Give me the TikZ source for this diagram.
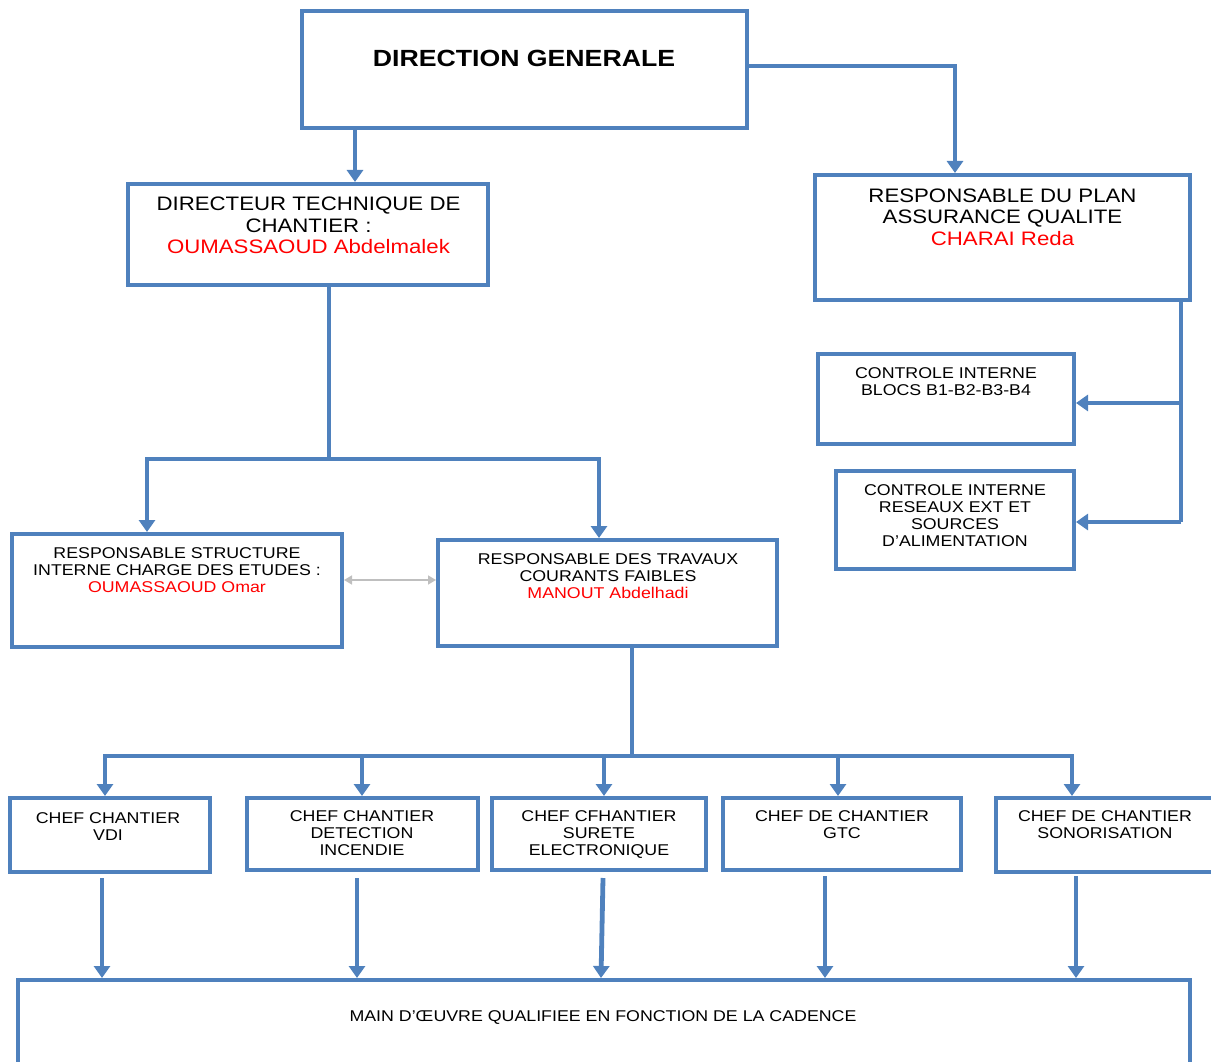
\documentclass[tikz,border=0pt]{standalone}
\usepackage{fontspec}
\setmainfont{Liberation Sans}[FakeStretch=1.14]
\usetikzlibrary{arrows.meta,calc}
\definecolor{blu}{HTML}{4F81BD}
\definecolor{redt}{HTML}{FF0000}
\definecolor{gry}{HTML}{BFBFBF}
\begin{document}
\begin{tikzpicture}[x=1pt,y=-1pt,
  box/.style={draw=blu,line width=4pt,line join=miter,inner sep=0pt},
  big/.style={font=\fontsize{19.5}{21.5}\selectfont,align=center,inner sep=0pt},
  small/.style={font=\fontsize{15.6}{17}\selectfont,align=center,inner sep=0pt},
  conn/.style={draw=blu,line width=4.8pt,line join=miter},
  arr/.style={conn,-{Triangle[width=16pt,length=12pt]}},
  dbl/.style={draw=gry,line width=1.5pt,{Triangle[width=9pt,length=8pt]}-{Triangle[width=9pt,length=8pt]}}]
\useasboundingbox (0,0) rectangle (1211,1062);
\clip (0,0) rectangle (1211,1062);
% boxes
\node[box,minimum width=445pt,minimum height=117pt] (dg) at (524.5,69.5) {};
\node[box,minimum width=360pt,minimum height=101pt] (dtc) at (308,234.5) {};
\node[box,minimum width=375pt,minimum height=125pt] (rpaq) at (1002.5,237.5) {};
\node[box,minimum width=256pt,minimum height=90pt] (cib) at (946,399) {};
\node[box,minimum width=238pt,minimum height=98pt] (cir) at (955,520) {};
\node[box,minimum width=330pt,minimum height=113pt] (rsi) at (177,590.5) {};
\node[box,minimum width=339pt,minimum height=106pt] (rtcf) at (607.5,593) {};
\node[box,minimum width=200pt,minimum height=74pt] (vdi) at (110,835) {};
\node[box,minimum width=231pt,minimum height=72pt] (di) at (362.5,834) {};
\node[box,minimum width=214pt,minimum height=72pt] (se) at (599,834) {};
\node[box,minimum width=238pt,minimum height=72pt] (gtc) at (842,834) {};
\node[box,minimum width=218pt,minimum height=74pt] (son) at (1105,835) {};
\node[box,minimum width=1172pt,minimum height=90pt] (main) at (604,1025) {};
% texts
\node[inner sep=0pt,font=\bfseries\fontsize{23.4}{26}\selectfont] (dgT) at (524,58.5) {DIRECTION GENERALE};
\node[big] (dtcT) at (308.5,225.5) {DIRECTEUR TECHNIQUE DE\\CHANTIER :\\\textcolor{redt}{OUMASSAOUD Abdelmalek}};
\node[big] (rpaqT) at (1002.5,217) {RESPONSABLE DU PLAN\\ASSURANCE QUALITE\\\textcolor{redt}{CHARAI Reda}};
\node[small] (cibT) at (946,381.5) {CONTROLE INTERNE\\BLOCS B1-B2-B3-B4};
\node[small] (cirT) at (955,515.5) {CONTROLE INTERNE\\RESEAUX EXT ET\\SOURCES\\D’ALIMENTATION};
\node[small] (rsiT) at (177,570) {RESPONSABLE STRUCTURE\\INTERNE CHARGE DES ETUDES :\\\textcolor{redt}{OUMASSAOUD Omar}};
\node[small] (rtcfT) at (608,576) {RESPONSABLE DES TRAVAUX\\COURANTS FAIBLES\\\textcolor{redt}{MANOUT Abdelhadi}};
\node[small] (vdiT) at (108,826.5) {CHEF CHANTIER\\VDI};
\node[small] (diT) at (362,833) {CHEF CHANTIER\\DETECTION\\INCENDIE};
\node[small] (seT) at (599,835) {CHEF CFHANTIER\\SURETE\\ELECTRONIQUE};
\node[small] (gtcT) at (842,824.5) {CHEF DE CHANTIER\\GTC};
\node[small] (sonT) at (1105,824.5) {CHEF DE CHANTIER\\SONORISATION};
\node[small] (mainT) at (603,1018) {MAIN D’ŒUVRE QUALIFIEE EN FONCTION DE LA CADENCE};
% junction coordinates
\coordinate (x355) at (355,0);
\coordinate (y66) at (0,66);
\coordinate (j1) at (329,459);
\coordinate (j2) at (632,756);
\coordinate (x1181) at (1181,0);
\coordinate (gy) at (0,580);
% connectors
\draw[arr] (dg.south -| x355) -- (dtc.north -| x355);
\draw[arr] (dg.east |- y66) -| ($(rpaq.north)+(-47.5,0)$);
\draw[conn] (rpaq.south -| x1181) -- ($(cir.east -| x1181)+(0,2)$);
\draw[arr] ($(cib.east -| x1181)+(0,4)$) -- ($(cib.east)+(0,4)$);
\draw[arr] ($(cir.east -| x1181)+(0,2)$) -- ($(cir.east)+(0,2)$);
\draw[conn] (dtc.south -| j1) -- (j1);
\draw[arr] (j1) -| ($(rsi.north)+(-30,0)$);
\draw[arr] (j1) -| ($(rtcf.north)+(-8.5,0)$);
\draw[dbl] (rsi.east |- gy) -- (rtcf.west |- gy);
\draw[conn] (rtcf.south -| j2) -- (j2);
\draw[arr] (j2) -| ($(vdi.north)+(-5,0)$);
\draw[arr] (j2) -| ($(di.north)+(-0.5,0)$);
\draw[arr] (j2) -| ($(se.north)+(5,0)$);
\draw[arr] (j2) -| ($(gtc.north)+(-4,0)$);
\draw[arr] (j2) -| ($(son.north)+(-33,0)$);
\draw[arr] ($(vdi.south)+(-8,4)$) -- (main.north -| {$(vdi.south)+(-8,0)$});
\draw[arr] ($(di.south)+(-5.5,6)$) -- (main.north -| {$(di.south)+(-5.5,0)$});
\draw[arr] ($(se.south)+(4,6)$) -- ($(main.north -| se.south)+(2,0)$);
\draw[arr] ($(gtc.south)+(-17,4)$) -- (main.north -| {$(gtc.south)+(-17,0)$});
\draw[arr] ($(son.south)+(-29,2)$) -- (main.north -| {$(son.south)+(-29,0)$});
\end{tikzpicture}
\end{document}
